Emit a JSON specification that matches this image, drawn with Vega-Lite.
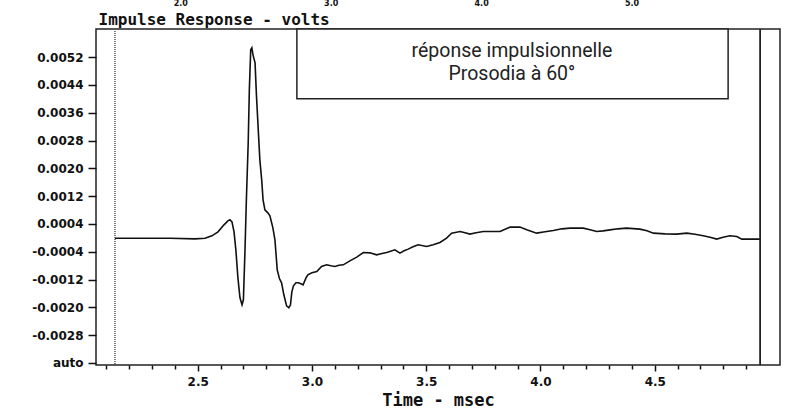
{
  "$schema": "https://vega.github.io/schema/vega-lite/v6.json",
  "width": 684,
  "height": 336,
  "autosize": {"type": "none"},
  "padding": {"left": 96, "top": 29, "right": 5, "bottom": 50},
  "background": "white",
  "config": {
    "view": {"stroke": "#222", "strokeWidth": 1.5},
    "axis": {"grid": false, "domain": false, "tickColor": "#111", "labelColor": "#111", "titleColor": "#111", "labelOverlap": false, "labelFlush": false}
  },
  "resolve": {"scale": {"x": "independent"}},
  "layer": [
    {
      "layer": [
        {
          "data": {"values": [{"x1": 2.934, "x2": 4.821, "y1": 0.0040, "y2": 0.00601}]},
          "mark": {"type": "rect", "fill": "white", "stroke": "#222", "strokeWidth": 1.5},
          "encoding": {
            "x": {"field": "x1", "type": "quantitative", "scale": {"domain": [2.055, 5.048], "nice": false, "zero": false}},
            "x2": {"field": "x2"},
            "y": {"field": "y1", "type": "quantitative", "scale": {"domain": [-0.00366, 0.00601], "nice": false, "zero": false}},
            "y2": {"field": "y2"}
          }
        },
        {
          "data": {"values": [
            {"t":2.138,"v":-0.000014},{"t":2.247,"v":-0.000014},{"t":2.379,"v":-0.000014},{"t":2.488,"v":-0.000029},
            {"t":2.532,"v":-0.000014},{"t":2.562,"v":0.000058},{"t":2.589,"v":0.000173},{"t":2.615,"v":0.000374},
            {"t":2.632,"v":0.000489},{"t":2.641,"v":0.000518},{"t":2.650,"v":0.000460},{"t":2.659,"v":0.000173},
            {"t":2.667,"v":-0.000345},{"t":2.676,"v":-0.001151},{"t":2.685,"v":-0.001727},{"t":2.694,"v":-0.001928},
            {"t":2.700,"v":-0.001784},{"t":2.707,"v":-0.000345},{"t":2.713,"v":0.001094},{"t":2.721,"v":0.002734},
            {"t":2.726,"v":0.004259},{"t":2.732,"v":0.005410},{"t":2.737,"v":0.005468},{"t":2.742,"v":0.005266},
            {"t":2.751,"v":0.005036},{"t":2.757,"v":0.004115},{"t":2.765,"v":0.003108},{"t":2.772,"v":0.002245},
            {"t":2.780,"v":0.001669},{"t":2.786,"v":0.001094},{"t":2.794,"v":0.000806},{"t":2.807,"v":0.000719},
            {"t":2.816,"v":0.000633},{"t":2.829,"v":0.000288},{"t":2.838,"v":-0.000058},{"t":2.848,"v":-0.000921},
            {"t":2.858,"v":-0.001180},{"t":2.867,"v":-0.001295},{"t":2.877,"v":-0.001640},{"t":2.889,"v":-0.001957},
            {"t":2.899,"v":-0.002014},{"t":2.906,"v":-0.001928},{"t":2.912,"v":-0.001554},{"t":2.919,"v":-0.001381},
            {"t":2.930,"v":-0.001295},{"t":2.940,"v":-0.001295},{"t":2.952,"v":-0.001324},{"t":2.961,"v":-0.001352},
            {"t":2.974,"v":-0.001151},{"t":2.982,"v":-0.001065},{"t":3.000,"v":-0.001007},{"t":3.021,"v":-0.000970},
            {"t":3.042,"v":-0.000826},{"t":3.064,"v":-0.000777},{"t":3.083,"v":-0.000806},{"t":3.101,"v":-0.000826},
            {"t":3.118,"v":-0.000791},{"t":3.137,"v":-0.000777},{"t":3.166,"v":-0.000662},{"t":3.196,"v":-0.000555},
            {"t":3.225,"v":-0.000423},{"t":3.254,"v":-0.000432},{"t":3.283,"v":-0.000489},{"t":3.302,"v":-0.000460},
            {"t":3.327,"v":-0.000423},{"t":3.363,"v":-0.000345},{"t":3.385,"v":-0.000440},{"t":3.403,"v":-0.000374},
            {"t":3.421,"v":-0.000325},{"t":3.442,"v":-0.000259},{"t":3.465,"v":-0.000201},{"t":3.502,"v":-0.000250},
            {"t":3.530,"v":-0.000201},{"t":3.560,"v":-0.000135},{"t":3.589,"v":-0.000009},{"t":3.611,"v":0.000135},
            {"t":3.648,"v":0.000181},{"t":3.670,"v":0.000144},{"t":3.691,"v":0.000106},{"t":3.718,"v":0.000144},
            {"t":3.750,"v":0.000181},{"t":3.779,"v":0.000181},{"t":3.823,"v":0.000181},{"t":3.845,"v":0.000245},
            {"t":3.867,"v":0.000308},{"t":3.910,"v":0.000308},{"t":3.940,"v":0.000230},{"t":3.983,"v":0.000135},
            {"t":4.020,"v":0.000173},{"t":4.056,"v":0.000210},{"t":4.094,"v":0.000259},{"t":4.129,"v":0.000279},
            {"t":4.187,"v":0.000279},{"t":4.217,"v":0.000230},{"t":4.246,"v":0.000181},{"t":4.274,"v":0.000201},
            {"t":4.304,"v":0.000230},{"t":4.339,"v":0.000259},{"t":4.377,"v":0.000279},{"t":4.435,"v":0.000250},
            {"t":4.466,"v":0.000201},{"t":4.494,"v":0.000135},{"t":4.545,"v":0.000115},{"t":4.596,"v":0.000106},
            {"t":4.640,"v":0.000135},{"t":4.676,"v":0.000101},{"t":4.712,"v":0.000058},{"t":4.742,"v":0.000014},
            {"t":4.771,"v":-0.000037},{"t":4.799,"v":0.000014},{"t":4.829,"v":0.000058},{"t":4.859,"v":0.000037},
            {"t":4.881,"v":-0.000037},{"t":4.917,"v":-0.000037},{"t":4.961,"v":-0.000037}
          ]},
          "mark": {"type": "line", "color": "#111", "strokeWidth": 1.6, "interpolate": "linear"},
          "encoding": {
            "x": {
              "field": "t", "type": "quantitative",
              "scale": {"domain": [2.055, 5.048], "nice": false, "zero": false},
              "axis": {
                "orient": "bottom",
                "tickCount": 200,
                "values": [2.1,2.2,2.3,2.4,2.5,2.6,2.7,2.8,2.9,3.0,3.1,3.2,3.3,3.4,3.5,3.6,3.7,3.8,3.9,4.0,4.1,4.2,4.3,4.4,4.5,4.6,4.7,4.8,4.9],
                "labelExpr": "abs(datum.value*2 - round(datum.value*2)) < 0.001 ? format(datum.value, '.1f') : ''",
                "labelOverlap": false,
                "labelFlush": false,
                "tickSize": {"condition": {"test": "abs(datum.value*2 - round(datum.value*2)) < 0.001", "value": 6}, "value": 4},
                "tickWidth": 1.5,
                "labelFont": "DejaVu Sans", "labelFontWeight": "bold", "labelFontSize": 12, "labelPadding": 5,
                "title": "Time - msec",
                "titleFont": "DejaVu Sans Mono", "titleFontWeight": "bold", "titleFontSize": 17, "titlePadding": 5
              }
            },
            "y": {
              "field": "v", "type": "quantitative",
              "scale": {"domain": [-0.00366, 0.00601], "nice": false, "zero": false},
              "axis": {
                "tickCount": 200,
                "values": [-0.0036,-0.0028,-0.002,-0.0012,-0.0004,0.0004,0.0012,0.002,0.0028,0.0036,0.0044,0.0052],
                "labelExpr": "datum.value < -0.0033 ? 'auto' : replace(format(datum.value, '.4f'), '\u2212', '-')",
                "labelOverlap": false,
                "labelFlush": false,
                "tickSize": 8, "tickWidth": 1.5,
                "labelFont": "DejaVu Sans", "labelFontWeight": "bold", "labelFontSize": 12, "labelPadding": 5,
                "title": "Impulse Response - volts",
                "titleAngle": 0, "titleAlign": "left", "titleBaseline": "middle",
                "titleX": 2, "titleY": -10,
                "titleFont": "DejaVu Sans Mono", "titleFontWeight": "bold", "titleFontSize": 16
              }
            }
          }
        },
        {
          "data": {"values": [{"t": 2.138}]},
          "mark": {"type": "rule", "color": "#555", "strokeWidth": 1.5, "strokeDash": [1, 1]},
          "encoding": {"x": {"field": "t", "type": "quantitative", "scale": {"domain": [2.055, 5.048], "nice": false, "zero": false}}}
        },
        {
          "data": {"values": [{"t": 4.961}]},
          "mark": {"type": "rule", "color": "#222", "strokeWidth": 1.8},
          "encoding": {"x": {"field": "t", "type": "quantitative", "scale": {"domain": [2.055, 5.048], "nice": false, "zero": false}}}
        },
        {
          "data": {"values": [
            {"t": 3.875, "v": 0.00537, "label": "réponse impulsionnelle"},
            {"t": 3.875, "v": 0.00472, "label": "Prosodia à 60°"}
          ]},
          "mark": {"type": "text", "font": "Roboto", "fontSize": 19.5, "color": "#222", "align": "center", "baseline": "middle"},
          "encoding": {
            "x": {"field": "t", "type": "quantitative", "scale": {"domain": [2.055, 5.048], "nice": false, "zero": false}},
            "y": {"field": "v", "type": "quantitative", "scale": {"domain": [-0.00366, 0.00601], "nice": false, "zero": false}},
            "text": {"field": "label"}
          }
        }
      ]
    },
    {
      "data": {"values": [{"s": 2.0}, {"s": 3.0}, {"s": 4.0}, {"s": 5.0}]},
      "mark": {"type": "point", "opacity": 0},
      "encoding": {
        "x": {
          "field": "s", "type": "quantitative",
          "scale": {"domain": [1.44, 5.987], "nice": false, "zero": false},
          "axis": {
            "orient": "top", "values": [2, 3, 4, 5], "format": ".1f", "tickCount": 50,
            "ticks": false, "tickSize": 0, "domain": false,
            "labelPadding": 22, "labelFont": "DejaVu Sans", "labelFontWeight": "bold", "labelFontSize": 8,
            "labelOverlap": false, "labelFlush": false, "title": null
          }
        }
      }
    }
  ]
}
